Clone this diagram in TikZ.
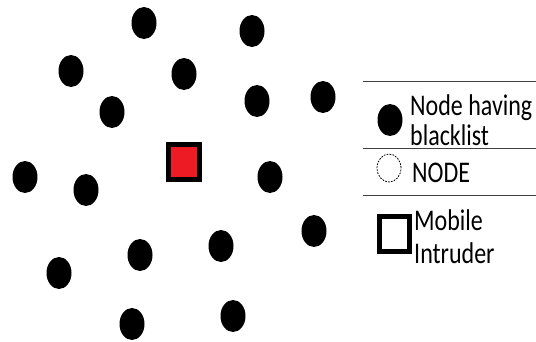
\documentclass[tikz,border=0pt]{standalone}
\usepackage{fontspec}
\setmainfont{Carlito}
\usetikzlibrary{shapes.geometric}
\definecolor{intrred}{RGB}{237,28,36}
\tikzset{
  bnode/.style={ellipse, fill=black, inner sep=0, minimum width=25pt, minimum height=32pt},
  legtext/.style={anchor=base west, inner sep=0, font=\fontsize{24}{28}\selectfont},
  sepline/.style={draw=black!75, line width=0.9pt}
}
\newcommand{\vs}[1]{\scalebox{1}[1.25]{#1}}
\begin{document}
\begin{tikzpicture}[x=1pt,y=-1pt]
\useasboundingbox (0,0) rectangle (536,341);
% nodes having blacklist
\node[bnode] (n1) at (144,23) {};
\node[bnode] (n2) at (252,31) {};
\node[bnode] (n3) at (71,71) {};
\node[bnode] (n4) at (184,74) {};
\node[bnode] (n5) at (112,112) {};
\node[bnode] (n6) at (257,101) {};
\node[bnode] (n7) at (323,97) {};
\node[bnode] (n8) at (25,177) {};
\node[bnode] (n9) at (86,190) {};
\node[bnode] (n10) at (270,177) {};
\node[bnode] (n11) at (314,231) {};
\node[bnode] (n12) at (221,246) {};
\node[bnode] (n13) at (140,255) {};
\node[bnode] (n14) at (59,273) {};
\node[bnode] (n15) at (132,324) {};
\node[bnode] (n16) at (233,316) {};
% mobile intruder
\node[draw=black, line width=5pt, fill=intrred, minimum width=31pt, minimum height=35pt, inner sep=0] (intr) at (184,162) {};
% legend
\coordinate (l1a) at (363,81); \coordinate (l1b) at (536,81);
\coordinate (l2a) at (363,148); \coordinate (l2b) at (536,148);
\coordinate (l3a) at (363,195); \coordinate (l3b) at (536,195);
\draw[sepline] (l1a) -- (l1b);
\draw[sepline] (l2a) -- (l2b);
\draw[sepline] (l3a) -- (l3b);
\node[bnode] (legb) at (390,120) {};
\node[legtext] (t1) at (410,115) {\vs{Node having}};
\node[legtext] (t2) at (410,145) {\vs{blacklist}};
\node[ellipse, draw=black, dashed, dash pattern=on 1.8pt off 1.2pt, line width=0.8pt, minimum width=24pt, minimum height=28pt, inner sep=0] (legn) at (389,168) {};
\node[legtext] (t3) at (412,182) {\vs{NODE}};
\node[draw=black, line width=5pt, fill=white, minimum width=30pt, minimum height=35pt, inner sep=0] (legi) at (394,234) {};
\node[legtext] (t4) at (414,230) {\vs{Mobile}};
\node[legtext] (t5) at (414,263) {\vs{Intruder}};
\end{tikzpicture}
\end{document}
